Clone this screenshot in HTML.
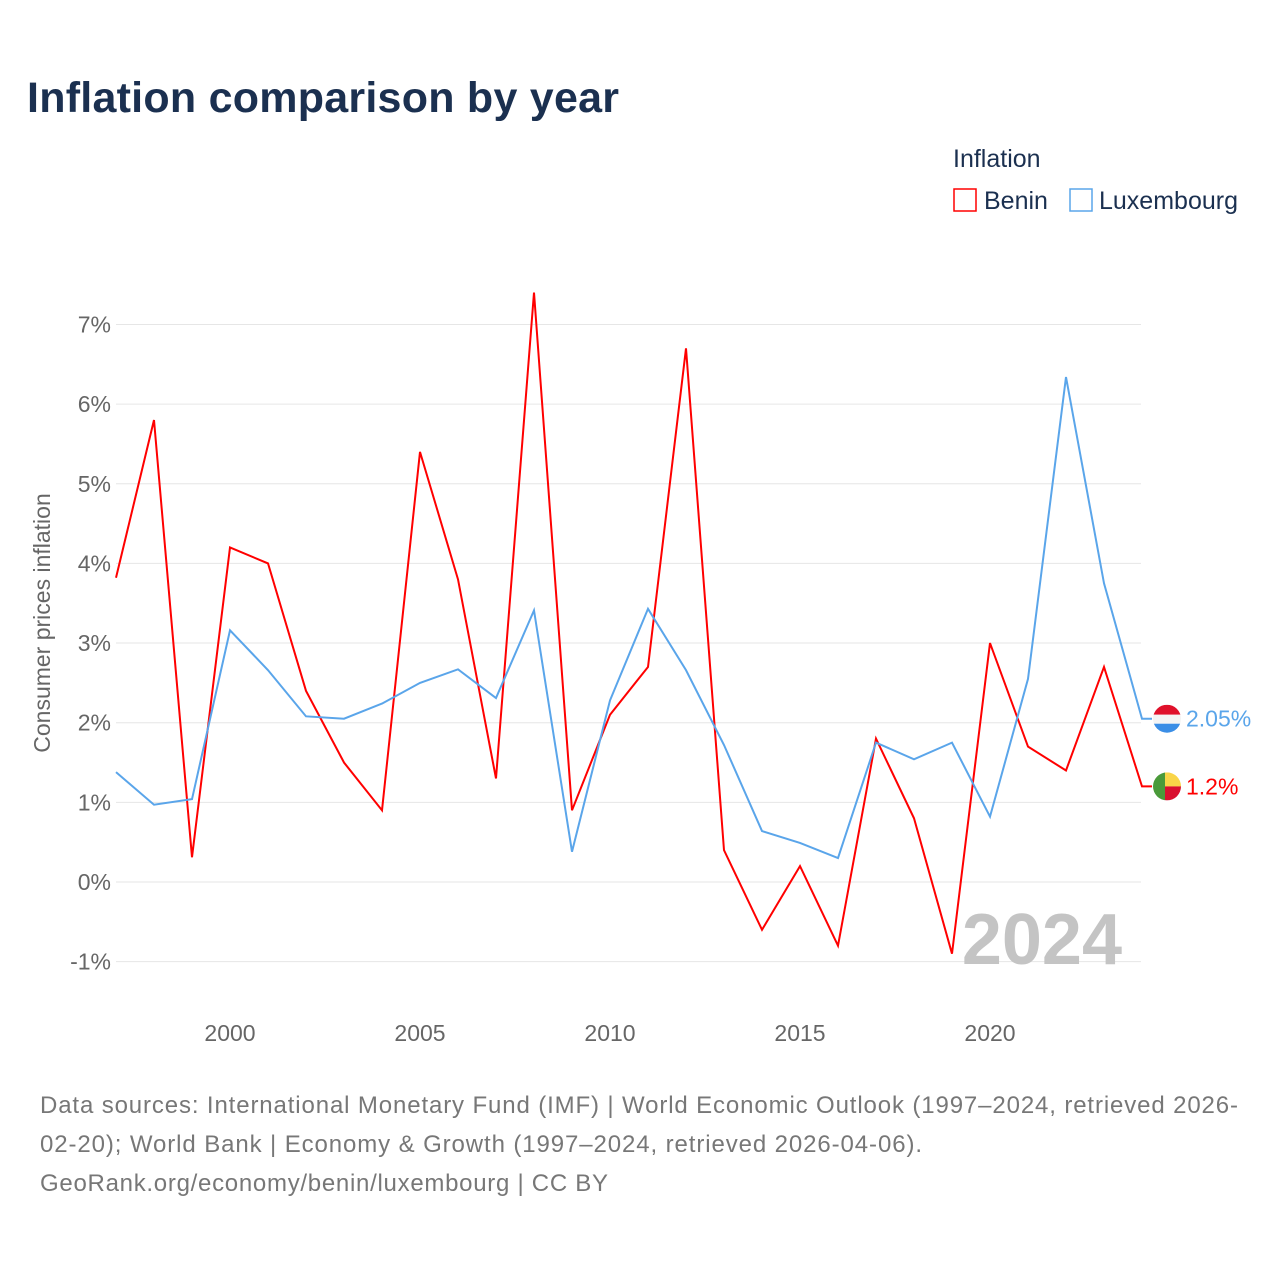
<!DOCTYPE html>
<html><head><meta charset="utf-8"><style>
body{margin:0;background:#fff;width:1280px;height:1280px;overflow:hidden;font-family:"Liberation Sans",sans-serif}
</style></head><body>
<svg id="chart" width="1280" height="1280" xmlns="http://www.w3.org/2000/svg">
<text x="27" y="112" font-size="43" font-weight="bold" fill="#1b3050" textLength="592">Inflation comparison by year</text>
<text x="953" y="167" font-size="25" fill="#1b3050">Inflation</text>
<g><rect x="954" y="189" width="22" height="22" fill="none" stroke="#ff0000" stroke-width="1.5"/><text x="984" y="209" font-size="25" fill="#1b3050">Benin</text></g>
<g><rect x="1070" y="189" width="22" height="22" fill="none" stroke="#5aa5ea" stroke-width="1.5"/><text x="1099" y="209" font-size="25" fill="#1b3050">Luxembourg</text></g>
<text transform="translate(50,623) rotate(-90)" text-anchor="middle" font-size="23" fill="#666">Consumer prices inflation</text>
<g id="grid"></g><g id="xt"></g>
<text x="1122" y="964" text-anchor="end" font-size="72" font-weight="bold" fill="#c4c4c4">2024</text>
<g id="lines"></g>
<text x="40" y="1113" font-size="24" fill="#777" textLength="1198">Data sources: International Monetary Fund (IMF) | World Economic Outlook (1997–2024, retrieved 2026-</text>
<text x="40" y="1152" font-size="24" fill="#777" textLength="882">02-20); World Bank | Economy &amp; Growth (1997–2024, retrieved 2026-04-06).</text>
<text x="40" y="1191" font-size="24" fill="#777" textLength="568">GeoRank.org/economy/benin/luxembourg | CC BY</text>
</svg>
<script>
const years=[1997,1998,1999,2000,2001,2002,2003,2004,2005,2006,2007,2008,2009,2010,2011,2012,2013,2014,2015,2016,2017,2018,2019,2020,2021,2022,2023,2024];
const benin=[3.82,5.8,0.31,4.2,4.0,2.4,1.5,0.9,5.4,3.8,1.3,7.4,0.9,2.1,2.7,6.7,0.4,-0.6,0.2,-0.8,1.8,0.8,-0.9,3.0,1.7,1.4,2.7,1.2];
const luxembourg=[1.38,0.97,1.04,3.16,2.66,2.08,2.05,2.24,2.5,2.67,2.31,3.41,0.38,2.28,3.43,2.66,1.72,0.64,0.49,0.3,1.75,1.54,1.75,0.82,2.55,6.34,3.75,2.05];
const yTicks=[-1,0,1,2,3,4,5,6,7];
const xTicks=[2000,2005,2010,2015,2020];
const NS="http://www.w3.org/2000/svg";
const x=v=>116+(v-1997)*38;
const y=v=>882-v*79.65;
function mk(t,a,p){const e=document.createElementNS(NS,t);for(const k in a)e.setAttribute(k,a[k]);p.appendChild(e);return e;}
const g=document.getElementById('grid');
yTicks.forEach(t=>{
 const l=mk('line',{x1:116,x2:1141,y1:y(t),y2:y(t),stroke:'#e6e6e6','stroke-width':1},g);
 
 
 const tx=mk('text',{x:111,y:y(t)+8,'text-anchor':'end','font-size':23,fill:'#666'},g);
 tx.textContent=t+'%';
 
 
});
const xt=document.getElementById('xt');
xTicks.forEach(t=>{
 const tx=mk('text',{x:x(t),y:1041,'text-anchor':'middle','font-size':23,fill:'#666'},xt);
 tx.textContent=t;
 
 
});
const L=document.getElementById('lines');
function flag(cx,cy,kind,name){
 const grp=mk('g',{},L);
 
 
 const id='clip-'+name;
 const cp=mk('clipPath',{id:id},grp);
 mk('circle',{cx:cx,cy:cy,r:14},cp);
 const inner=mk('g',{'clip-path':'url(#'+id+')'},grp);
 if(kind==='lux'){
  mk('rect',{x:cx-14,y:cy-14,width:28,height:10,fill:'#e0112b'},inner);
  mk('rect',{x:cx-14,y:cy-4,width:28,height:9,fill:'#f4f4f4'},inner);
  mk('rect',{x:cx-14,y:cy+5,width:28,height:10,fill:'#3a8ee6'},inner);
 } else {
  mk('rect',{x:cx-14,y:cy-14,width:12,height:28,fill:'#4a9a3a'},inner);
  mk('rect',{x:cx-2,y:cy-14,width:16,height:14,fill:'#f9d548'},inner);
  mk('rect',{x:cx-2,y:cy,width:16,height:14,fill:'#d9102f'},inner);
 }
}
function series(vals,col,name,lab,kind){
 let d=vals.map((v,i)=>(i?'L':'M')+x(years[i])+','+y(v)).join(' ');
 d+=' L'+(x(2024)+10)+','+y(vals[vals.length-1]);
 const p=mk('path',{d:d,fill:'none',stroke:col,'stroke-width':2},L);
 
 
 const ly=y(vals[vals.length-1]);
 flag(1167,ly,kind,name);
 const t=mk('text',{x:1186,y:ly+8,'font-size':23,fill:col},L);
 t.textContent=lab;
 
 
}
series(benin,'#ff0000','benin','1.2%','benin');
series(luxembourg,'#5aa5ea','luxembourg','2.05%','lux');
</script>
</body></html>
